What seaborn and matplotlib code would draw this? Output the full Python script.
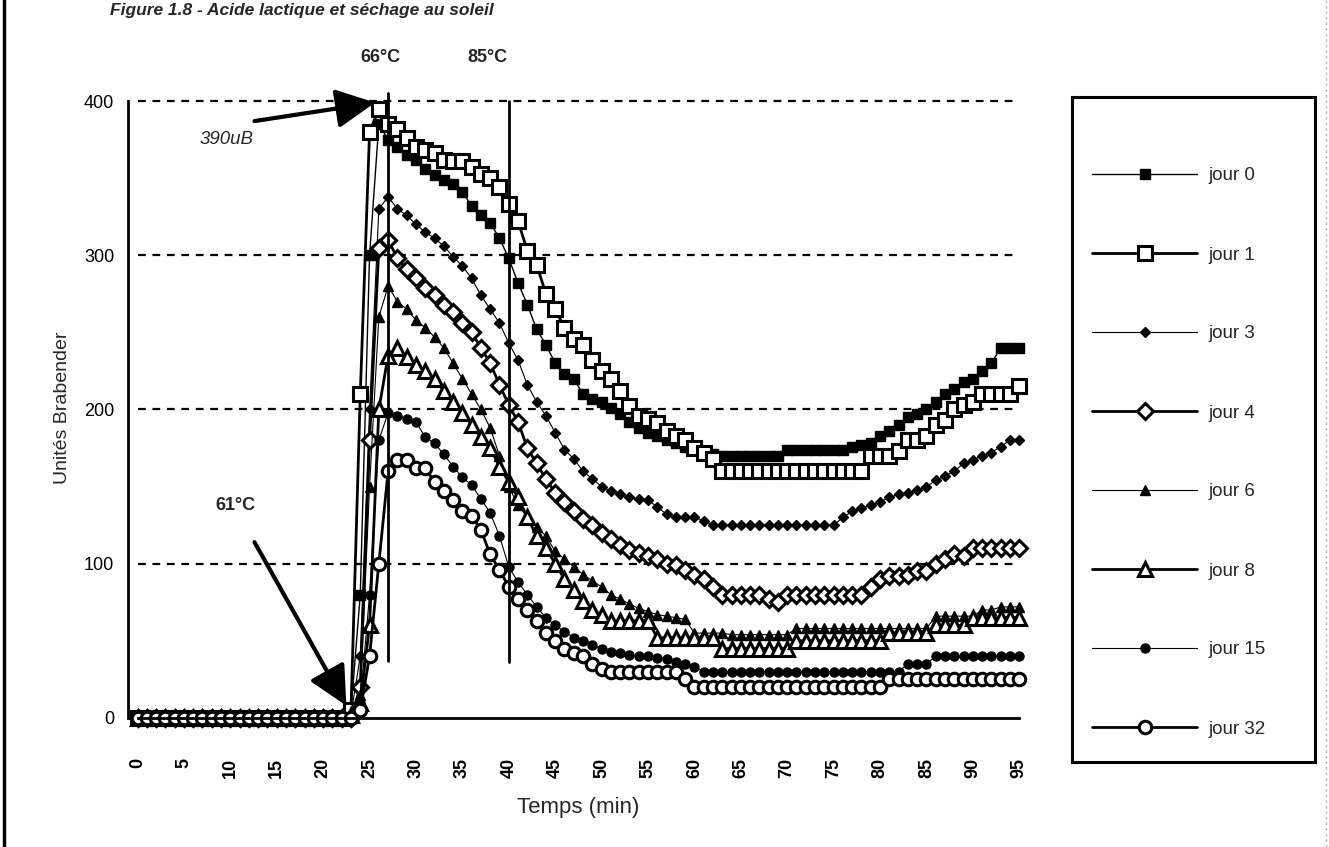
import matplotlib
matplotlib.use("Agg")
import matplotlib.pyplot as plt
import seaborn as sns
from matplotlib.patches import Rectangle
from matplotlib.lines import Line2D

sns.set_style("white")
plt.rcParams['font.family'] = ['Liberation Sans', 'DejaVu Sans']

# Brabender viscosity (uB) recorded every minute, one list per storage day
minutes = list(range(96))

jour_0 = [0, 0, 0, 0, 0, 0, 0, 0, 0, 0, 0, 0,
          0, 0, 0, 0, 0, 0, 0, 0, 0, 0, 0, 5,
          80, 300, 385, 375, 370, 365, 362, 356, 352, 349, 346, 341,
          332, 326, 321, 311, 298, 282, 268, 252, 242, 230, 223, 220,
          210, 207, 205, 201, 197, 192, 188, 185, 183, 180, 178, 176,
          174, 172, 171, 170, 170, 170, 170, 170, 170, 170, 174, 174,
          174, 174, 174, 174, 174, 176, 177, 178, 183, 186, 190, 195,
          197, 200, 205, 210, 213, 218, 220, 225, 230, 240, 240, 240]

jour_1 = [0, 0, 0, 0, 0, 0, 0, 0, 0, 0, 0, 0,
          0, 0, 0, 0, 0, 0, 0, 0, 0, 0, 0, 5,
          210, 380, 395, 385, 382, 376, 370, 368, 366, 362, 361, 361,
          357, 353, 350, 344, 333, 322, 303, 294, 275, 265, 253, 246,
          242, 232, 225, 220, 212, 202, 196, 194, 191, 186, 183, 180,
          175, 172, 168, 160, 160, 160, 160, 160, 160, 160, 160, 160,
          160, 160, 160, 160, 160, 160, 160, 170, 170, 170, 173, 180,
          180, 183, 190, 193, 200, 203, 205, 210, 210, 210, 210, 215]

jour_3 = [0, 0, 0, 0, 0, 0, 0, 0, 0, 0, 0, 0,
          0, 0, 0, 0, 0, 0, 0, 0, 0, 0, 0, 2,
          40, 200, 330, 338, 330, 326, 320, 315, 311, 306, 299, 293,
          285, 274, 265, 256, 243, 232, 216, 205, 196, 185, 174, 168,
          160, 155, 150, 147, 145, 143, 142, 141, 137, 132, 130, 130,
          130, 128, 125, 125, 125, 125, 125, 125, 125, 125, 125, 125,
          125, 125, 125, 125, 130, 134, 136, 138, 140, 143, 145, 146,
          148, 150, 154, 157, 160, 165, 167, 170, 172, 176, 180, 180]

jour_4 = [0, 0, 0, 0, 0, 0, 0, 0, 0, 0, 0, 0,
          0, 0, 0, 0, 0, 0, 0, 0, 0, 0, 0, 0,
          20, 180, 305, 310, 298, 291, 285, 279, 274, 268, 263, 256,
          250, 240, 230, 216, 203, 192, 175, 165, 155, 146, 140, 134,
          129, 125, 120, 116, 112, 109, 107, 105, 103, 100, 99, 96,
          93, 90, 85, 80, 80, 80, 80, 80, 77, 75, 80, 80,
          80, 80, 80, 80, 80, 80, 80, 85, 90, 92, 92, 93,
          95, 95, 100, 103, 106, 105, 110, 110, 110, 110, 110, 110]

jour_6 = [0, 0, 0, 0, 0, 0, 0, 0, 0, 0, 0, 0,
          0, 0, 0, 0, 0, 0, 0, 0, 0, 0, 0, 3,
          15, 150, 260, 280, 270, 265, 258, 253, 247, 240, 230, 220,
          210, 200, 188, 170, 150, 138, 130, 124, 118, 108, 103, 98,
          93, 89, 85, 80, 77, 74, 71, 69, 67, 66, 65, 64,
          55, 55, 55, 55, 54, 54, 54, 54, 54, 54, 54, 58,
          58, 58, 58, 58, 58, 58, 58, 58, 58, 58, 58, 58,
          58, 58, 66, 66, 66, 66, 66, 70, 70, 72, 72, 72]

jour_8 = [0, 0, 0, 0, 0, 0, 0, 0, 0, 0, 0, 0,
          0, 0, 0, 0, 0, 0, 0, 0, 0, 0, 0, 2,
          10, 60, 200, 235, 240, 234, 229, 225, 220, 212, 205, 198,
          190, 182, 175, 163, 153, 143, 130, 118, 110, 100, 90, 83,
          76, 70, 67, 63, 63, 63, 63, 63, 52, 52, 52, 52,
          52, 52, 52, 45, 45, 45, 45, 45, 45, 45, 45, 50,
          50, 50, 50, 50, 50, 50, 50, 50, 50, 55, 55, 55,
          55, 55, 60, 60, 60, 60, 65, 65, 65, 65, 65, 65]

jour_15 = [0, 0, 0, 0, 0, 0, 0, 0, 0, 0, 0, 0,
           0, 0, 0, 0, 0, 0, 0, 0, 0, 0, 0, 0,
           10, 80, 180, 198, 196, 194, 192, 182, 178, 171, 163, 156,
           151, 142, 133, 118, 98, 88, 80, 72, 65, 60, 56, 52,
           50, 47, 45, 43, 42, 41, 40, 40, 39, 38, 36, 35,
           33, 30, 30, 30, 30, 30, 30, 30, 30, 30, 30, 30,
           30, 30, 30, 30, 30, 30, 30, 30, 30, 30, 30, 35,
           35, 35, 40, 40, 40, 40, 40, 40, 40, 40, 40, 40]

jour_32 = [0, 0, 0, 0, 0, 0, 0, 0, 0, 0, 0, 0,
           0, 0, 0, 0, 0, 0, 0, 0, 0, 0, 0, 0,
           5, 40, 100, 160, 167, 167, 162, 162, 153, 147, 141, 134,
           131, 122, 106, 96, 85, 77, 70, 63, 55, 50, 45, 42,
           40, 35, 32, 30, 30, 30, 30, 30, 30, 30, 30, 25,
           20, 20, 20, 20, 20, 20, 20, 20, 20, 20, 20, 20,
           20, 20, 20, 20, 20, 20, 20, 20, 20, 25, 25, 25,
           25, 25, 25, 25, 25, 25, 25, 25, 25, 25, 25, 25]

labels = ["jour 0", "jour 1", "jour 3", "jour 4", "jour 6", "jour 8", "jour 15", "jour 32"]
values = [jour_0, jour_1, jour_3, jour_4, jour_6, jour_8, jour_15, jour_32]
x_ticks = list(range(0, 100, 5))
y_ticks = [0, 100, 200, 300, 400]

# marker, size, face, edge width, line width
styles = [
    ("s", 6.5, "black", 1.0, 1.0),
    ("s", 10, "white", 2.2, 2.0),
    ("D", 5.5, "black", 1.0, 0.8),
    ("D", 8.5, "white", 2.2, 2.0),
    ("^", 6.5, "black", 1.0, 0.8),
    ("^", 10, "white", 2.2, 2.0),
    ("o", 6.5, "black", 1.0, 0.8),
    ("o", 9, "white", 2.2, 2.0),
]

fig = plt.figure(figsize=(13.29, 8.47), dpi=100)
ax = fig.add_axes([0.0965, 0.1378, 0.6774, 0.7611])

handles = []
for lab, vals, (mk, ms, fc, mew, lw) in zip(labels, values, styles):
    sns.lineplot(x=minutes, y=vals, ax=ax, color="black", errorbar=None,
                 marker=mk, markersize=ms, markerfacecolor=fc,
                 markeredgecolor="black", markeredgewidth=mew,
                 linewidth=lw, label=lab, legend=False)
    handles.append(ax.get_lines()[-1])

ax.set_xlim(-1, 96)
ax.set_ylim(-8, 410)

# dashed horizontal guides
for yv in y_ticks[1:]:
    ax.plot([0, 95], [yv, yv], color="black", lw=1.6, ls=(0, (3.5, 3)), zorder=0)

for s in ["top", "right"]:
    ax.spines[s].set_visible(False)
ax.spines["left"].set_bounds(0, 400)
ax.spines["bottom"].set_position(("data", 0))
ax.spines["bottom"].set_bounds(0, 95)
for s in ["left", "bottom"]:
    ax.spines[s].set_linewidth(2)
    ax.spines[s].set_color("black")

ax.set_xticks(x_ticks)
ax.set_xticklabels([str(v) for v in x_ticks], rotation=90, fontsize=13,
                   fontweight="bold")
ax.set_yticks(y_ticks)
ax.set_yticklabels([str(v) for v in y_ticks], fontsize=13)
ax.tick_params(axis="x", direction="inout", length=18, width=2, colors="black", pad=20)
ax.tick_params(axis="y", direction="inout", length=14, width=2, colors="black", pad=3)

ax.set_xlabel("Temps (min)", fontsize=16)
ax.xaxis.label.set_va("center")
ax.xaxis.set_label_coords(0.5, -0.12)
ax.set_ylabel("Unités Brabender", fontsize=14)
ax.yaxis.label.set_va("center")
ax.yaxis.set_label_coords(-0.073, 0.5)

# temperature markers
ax.plot([27, 27], [37, 405], color="black", lw=2)
ax.plot([40, 40], [36, 400], color="black", lw=2)
ax.text(26.2, 428, "66°C", ha="center", va="center", fontsize=13, fontweight="bold")
ax.text(37.7, 428, "85°C", ha="center", va="center", fontsize=13, fontweight="bold")

arrow = dict(arrowstyle="-|>,head_length=1.2,head_width=0.6", lw=3,
             color="black", shrinkA=0, shrinkB=0, mutation_scale=20)
ax.annotate("", xy=(25.6, 399), xytext=(12.6, 387), arrowprops=arrow)
ax.text(6.7, 375, "390uB", ha="left", va="center", fontsize=13.5, style="italic")

ax.text(10.5, 138, "61°C", ha="center", va="center", fontsize=13, fontweight="bold")
ax.annotate("", xy=(22.5, 8), xytext=(12.6, 114), arrowprops=arrow)

fig.text(0.083, 1 - 3 / 847, "Figure 1.8 - Acide lactique et séchage au soleil",
         ha="left", va="top", fontsize=12.5, fontweight="bold", style="italic")

# legend with its own frame
leg = ax.legend(handles, labels, loc="upper left",
                bbox_to_anchor=(1083 / 1329, 1 - 158 / 847),
                bbox_transform=fig.transFigure, frameon=False,
                handlelength=5.6, handletextpad=0.6, labelspacing=3.3,
                borderpad=0, fontsize=13.5)
fig.add_artist(Rectangle((1072 / 1329, 1 - 762 / 847), 243 / 1329, 665 / 847,
                         transform=fig.transFigure, fill=False,
                         edgecolor="black", lw=2.2))

# page border
fig.add_artist(Line2D([0.003, 0.003], [0, 1], transform=fig.transFigure,
                      color="black", lw=2.5))
fig.add_artist(Line2D([0.998, 0.998], [0, 1], transform=fig.transFigure,
                      color="#bbbbbb", lw=1, ls=(0, (2, 2))))

fig.savefig("out.png", dpi=100)
